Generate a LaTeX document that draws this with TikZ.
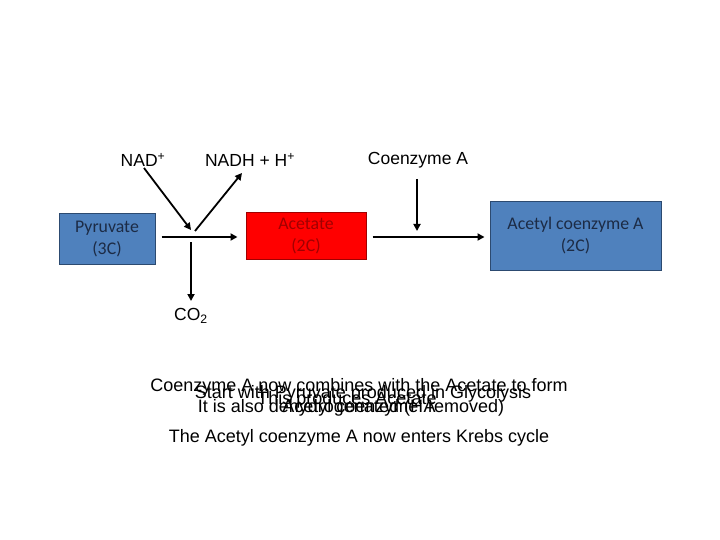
\documentclass[tikz,border=0pt]{standalone}
\usepackage{fontspec}
\setmainfont{Liberation Sans}
\newfontfamily\boxfont{Carlito}
\usetikzlibrary{positioning,arrows.meta,calc}

\definecolor{boxblue}{HTML}{4F81BD}
\definecolor{boxblueline}{HTML}{2C4A70}
\definecolor{boxred}{HTML}{FF0000}
\definecolor{boxredtext}{HTML}{A00000}
\definecolor{boxbluetext}{HTML}{1C2B45}

\tikzset{
	molbox/.style={draw=#1, line width=1pt, inner sep=0pt, align=center,
		font=\boxfont\fontsize{17.8}{22}\selectfont},
	lbl/.style={font=\fontsize{17.5}{20}\selectfont},
	note/.style={font=\fontsize{18}{21}\selectfont, align=center},
	flow/.style={line width=1.8pt, -{Triangle[length=7pt,width=7pt]}}
}

\begin{document}
\begin{tikzpicture}[x=1pt,y=-1pt]
				\useasboundingbox (0,0) rectangle (720,540);
				
				% Riquadri delle molecole
				\node[molbox=boxblueline, fill=boxblue, text=boxbluetext,
					minimum width=96pt, minimum height=50pt] (pyr) at (107,239) {Pyruvate\\(3C)};
				\node[molbox=boxredtext, fill=boxred, text=boxredtext,
					minimum width=120pt, minimum height=46pt] (acet) at (306,236) {Acetate\\(2C)};
				\node[molbox=boxblueline, fill=boxblue, text=boxbluetext,
					minimum width=171pt, minimum height=68pt] (acoa) at (575.5,236) {Acetyl coenzyme A\\(2C)};
				
				% Etichette di ingresso e uscita
				\node[lbl] (nad) at (143,160) {NAD\textsuperscript{+}};
				\node[lbl] (nadh) at (250,160) {NADH + H\textsuperscript{+}};
				\node[lbl] (coa) at (418,160) {Coenzyme A};
				\node[lbl] (co2) at (191,316) {CO\textsubscript{2}};
				
				% Punti di aggancio delle frecce
				\coordinate (nadfrom) at (144,168);
				\coordinate (nadto) at (191,230);
				\coordinate (nadhfrom) at (195,231);
				\coordinate (nadhto) at (242,173);
				\coordinate (co2from) at (191,242);
				\coordinate (co2to) at (191,301);
				\coordinate (coafrom) at (417,179);
				\coordinate (coato) at (417,231);
				
				% Frecce
				\draw[flow] ($(pyr.east)+(6,-2)$) -- ($(acet.west)+(-8,1)$);
				\draw[flow] (nadfrom) -- (nadto);
				\draw[flow] (nadhfrom) -- (nadhto);
				\draw[flow] (co2from) -- (co2to);
				\draw[flow] ($(acet.east)+(6,1)$) -- ($(acoa.west)+(-5,1)$);
				\draw[flow] (coafrom) -- (coato);
				
				% Testi sovrapposti della spiegazione
				\node[note] (combine) at (359,397.5) {Coenzyme A now combines with the Acetate to form\\Acetyl coenzyme A};
				\node[note] (start) at (363,394) {Start with Pyruvate produced in Glycolysis};
				\node[note] (produce) at (347,400) {This produces Acetate};
				\node[note] (dehyd) at (351,408) {It is also dehydrogenated (H removed)};
				\node[note] (krebs) at (359,438) {The Acetyl coenzyme A now enters Krebs cycle};
			\end{tikzpicture}
\end{document}
